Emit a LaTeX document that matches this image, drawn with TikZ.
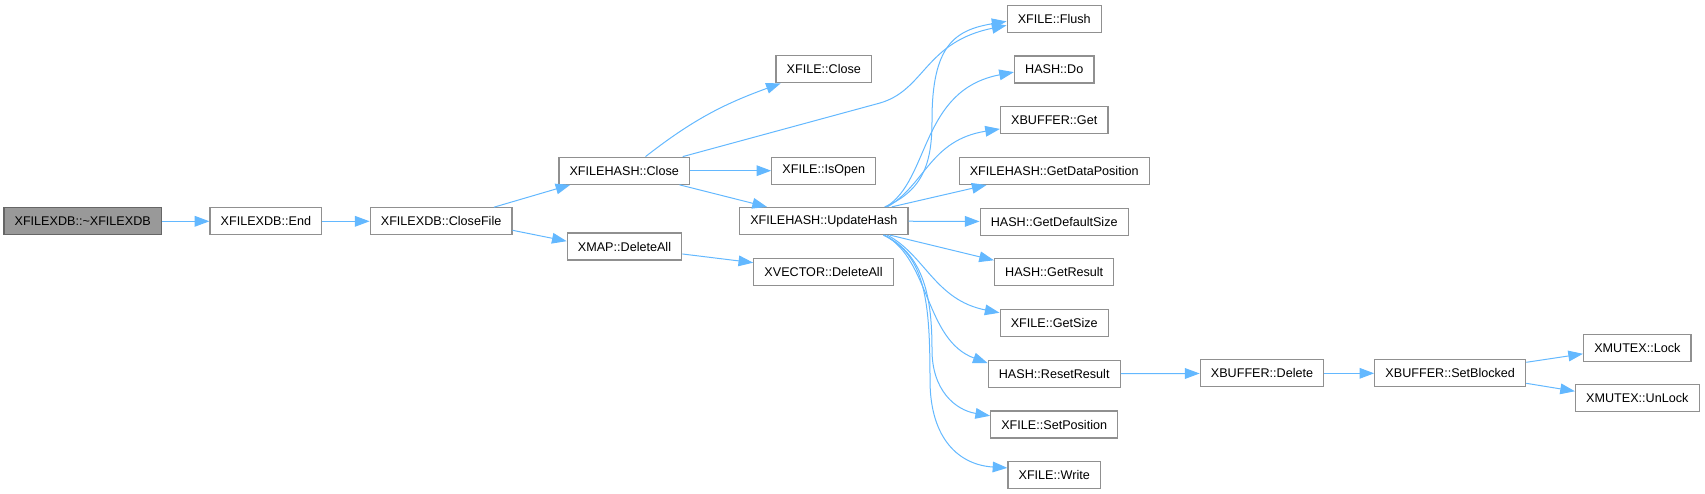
\documentclass[tikz,border=0pt]{standalone}
\usepackage{fontspec}
\setmainfont{Liberation Sans}
\usepackage{tikz}
\usetikzlibrary{positioning, arrows.meta}
\definecolor{edgeblue}{HTML}{63B8FF}
\definecolor{boxline}{HTML}{909090}
\definecolor{rootfill}{HTML}{999999}
\definecolor{rootline}{HTML}{666666}

\begin{document}
\begin{tikzpicture}[x=0.75pt, y=-0.75pt, node distance=35.5pt, font=\fontsize{9.45}{11}\selectfont]
        \tikzstyle{fn} = [rectangle, draw=boxline, line width=0.9pt, fill=white, inner xsep=8pt, inner ysep=2pt, minimum height=20.25pt]
        \tikzstyle{root} = [fn, draw=rootline, fill=rootfill]
        \tikzstyle{arrow} = [draw=edgeblue, line width=0.75pt, -{Triangle[length=11pt, width=8pt]}]

        \useasboundingbox (0,0) rectangle (1705,493);

        \node [root] (destr) at (82.7,221.3) {XFILEXDB::\textasciitilde XFILEXDB};
        \node [fn, right=of destr] (xdbend) {XFILEXDB::End};
        \node [fn, right=of xdbend] (closefile) {XFILEXDB::CloseFile};

        \node [fn] (hashclose) at (624.2,170.7) {XFILEHASH::Close};
        \node [fn] (xmapdel) at (624.5,246.5) {XMAP::DeleteAll};

        \node [fn] (fileclose) at (823.8,69.2) {XFILE::Close};
        \node [fn] (isopen) at (823.8,170.7) {XFILE::IsOpen};
        \node [fn] (updhash) at (823.8,221) {XFILEHASH::UpdateHash};
        \node [fn] (vecdel) at (823.5,272) {XVECTOR::DeleteAll};

        \node [fn] (flush) at (1054.2,18.7) {XFILE::Flush};
        \node [fn, below=16.9pt of flush] (hashdo) {HASH::Do};
        \node [fn, below=16.9pt of hashdo] (bufget) {XBUFFER::Get};
        \node [fn, below=16.9pt of bufget] (datapos) {XFILEHASH::GetDataPosition};
        \node [fn, below=16.9pt of datapos] (defsize) {HASH::GetDefaultSize};
        \node [fn, below=16.9pt of defsize] (getres) {HASH::GetResult};
        \node [fn, below=16.9pt of getres] (getsize) {XFILE::GetSize};
        \node [fn, below=16.9pt of getsize] (resetres) {HASH::ResetResult};
        \node [fn, below=16.9pt of resetres] (setpos) {XFILE::SetPosition};
        \node [fn, below=16.9pt of setpos] (fwrite) {XFILE::Write};

        \node [fn] (bufdel) at (1262,373.3) {XBUFFER::Delete};
        \node [fn] (setblk) at (1450.2,373.3) {XBUFFER::SetBlocked};
        \node [fn] (mtxlock) at (1637.3,347.8) {XMUTEX::Lock};
        \node [fn] (mtxunlock) at (1637.3,398.3) {XMUTEX::UnLock};

        % left part
        \draw [arrow] (destr) -- (xdbend);
        \draw [arrow] (xdbend) -- (closefile);
        \draw [arrow] ([xshift=-14pt]closefile.north east) -- ([xshift=9pt]hashclose.south west);
        \draw [arrow] ([yshift=-6.75pt]closefile.east) -- ([yshift=4pt]xmapdel.west);
        \draw [arrow] ([xshift=16pt]hashclose.north) to[out=38, in=200] ([xshift=4pt]fileclose.south west);
        \draw [arrow] ([xshift=-5.5pt]hashclose.north east) -- (880,103) .. controls (925,90) and (925,42) .. ([yshift=-5pt]flush.west);
        \draw [arrow] (hashclose) -- (isopen);
        \draw [arrow] ([xshift=-8pt]hashclose.south east) -- ([xshift=21pt]updhash.north west);
        \draw [arrow] ([yshift=-5.6pt]xmapdel.east) -- ([yshift=7pt]vecdel.west);

        % calls of UpdateHash
        \draw [arrow] ([xshift=-18pt]updhash.north east) .. controls (925,190) and (932,160) .. (932,120) .. controls (932,45) and (955,30) .. ([yshift=-2pt]flush.west);
        \draw [arrow] ([xshift=-17pt]updhash.north east) .. controls (930,180) and (920,90) .. ([yshift=-2pt]hashdo.west);
        \draw [arrow] ([xshift=-16pt]updhash.north east) .. controls (925,185) and (930,140) .. ([yshift=-6.6pt]bufget.west);
        \draw [arrow] ([xshift=-12.75pt]updhash.north east) -- ([xshift=21pt]datapos.south west);
        \draw [arrow] (updhash) -- (defsize);
        \draw [arrow] ([xshift=-14pt]updhash.south east) -- ([yshift=-1.5pt]getres.north west);
        \draw [arrow] ([xshift=-16pt]updhash.south east) .. controls (925,255) and (935,300) .. ([yshift=-2.8pt]getsize.north west);
        \draw [arrow] ([xshift=-18pt]updhash.south east) .. controls (930,260) and (925,340) .. ([yshift=-2.5pt]resetres.north west);
        \draw [arrow] ([xshift=-18.5pt]updhash.south east) .. controls (925,255) and (932,300) .. (932,350) .. controls (932,390) and (955,410) .. ([yshift=-4pt]setpos.north west);
        \draw [arrow] ([xshift=-19pt]updhash.south east) .. controls (925,255) and (930,300) .. (930,380) .. controls (930,440) and (960,465) .. ([yshift=-5pt]fwrite.north west);

        % right part
        \draw [arrow] (resetres) -- (bufdel);
        \draw [arrow] (bufdel) -- (setblk);
        \draw [arrow] ([yshift=8.25pt]setblk.east) -- ([yshift=-4.5pt]mtxlock.west);
        \draw [arrow] ([yshift=-7.5pt]setblk.east) -- ([yshift=5.3pt]mtxunlock.west);
\end{tikzpicture}
\end{document}
